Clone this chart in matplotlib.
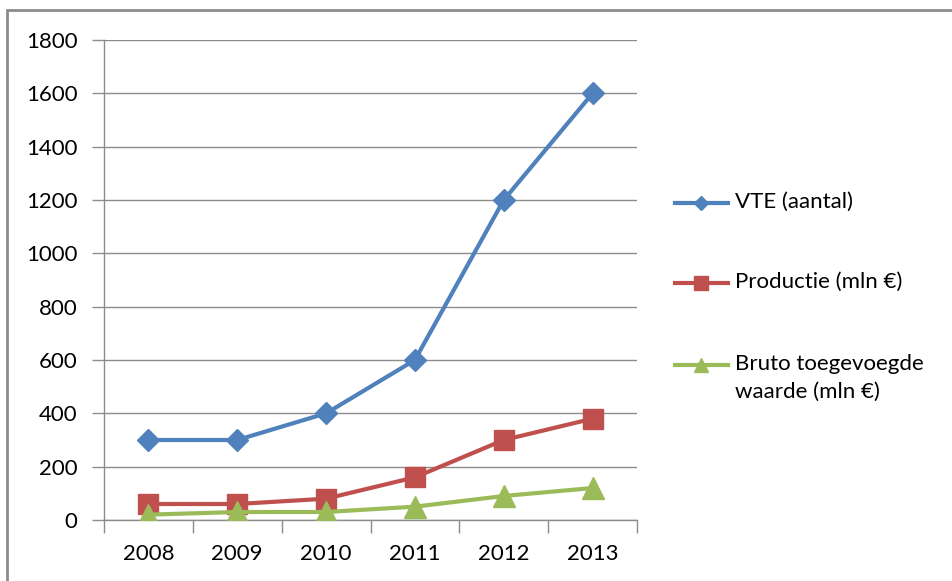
import matplotlib
matplotlib.use('Agg')
import matplotlib.pyplot as plt
import numpy as np
from matplotlib.lines import Line2D
from matplotlib.patches import Rectangle
from matplotlib.ticker import FixedLocator, NullFormatter

years = ['2008', '2009', '2010', '2011', '2012', '2013']
vte = [300, 300, 400, 600, 1200, 1600]
productie = [60, 60, 80, 160, 300, 380]
bruto = [20, 30, 30, 50, 90, 120]
labels = ['VTE (aantal)', 'Productie (mln €)', 'Bruto toegevoegde\nwaarde (mln €)']

BLUE = '#4F81BD'
RED = '#C0504D'
GREEN = '#9BBB59'
GRID = '#8C8C8C'

plt.rcParams['font.family'] = ['Lato', 'DejaVu Sans']
plt.rcParams['text.color'] = '#000000'

fig = plt.figure(figsize=(9.53, 5.81), dpi=100)
ax = fig.add_axes([104 / 953, 1 - 520 / 581, 533 / 953, 480 / 581])

x = np.arange(len(years))
ax.plot(x, vte, color=BLUE, lw=3, marker='D', ms=11.5, zorder=3)
ax.plot(x, productie, color=RED, lw=3, marker='s', ms=14, zorder=4)
ax.plot(x, bruto, color=GREEN, lw=3, marker='^', ms=16, zorder=5)

ax.set_xlim(-0.5, len(years) - 0.5)
ax.set_ylim(0, 1800)
ax.set_yticks(range(0, 1801, 200))
ax.yaxis.grid(True, color=GRID, lw=1)
ax.set_axisbelow(True)

# tick marks between categories, labels at the centres
ax.xaxis.set_major_locator(FixedLocator(np.arange(-0.5, len(years), 1.0)))
ax.xaxis.set_major_formatter(NullFormatter())
ax.xaxis.set_minor_locator(FixedLocator(x))
ax.set_xticklabels(years, minor=True)
ax.tick_params(axis='x', which='major', length=9, color=GRID, width=1)
ax.tick_params(axis='x', which='minor', length=0, pad=17, labelsize=16)
ax.tick_params(axis='y', length=9, color=GRID, width=1, pad=10, labelsize=16)

for side in ('top', 'right'):
    ax.spines[side].set_visible(False)
for side in ('left', 'bottom'):
    ax.spines[side].set_color(GRID)
    ax.spines[side].set_linewidth(1)

# legend drawn at fixed spots to the right of the plot
leg_rows = [(BLUE, 'D', 7, 203), (RED, 's', 10, 283), (GREEN, '^', 10, 365)]
for (col, mk, ms, ypix), lab in zip(leg_rows, labels):
    yf = 1 - ypix / 581
    fig.add_artist(Line2D([675 / 953, 728 / 953], [yf, yf], color=col, lw=3,
                          transform=fig.transFigure))
    fig.add_artist(Line2D([701.5 / 953], [yf], color=col, marker=mk, ms=ms,
                          transform=fig.transFigure))
    # each text line on its own, 28 px apart (first line level with the handle)
    for k, line in enumerate(lab.split('\n')):
        fig.text(735 / 953, 1 - (ypix - 1.5 + 28 * k) / 581, line, fontsize=16,
                 va='center', ha='left')

# outer chart frame (left and top edges visible)
fig.add_artist(Rectangle((7 / 953, -0.1), 1.2, 0.1 + 1 - 10 / 581, fill=False,
                         edgecolor='#8C8C8C', lw=2, transform=fig.transFigure))

fig.savefig('out.png', dpi=100)
